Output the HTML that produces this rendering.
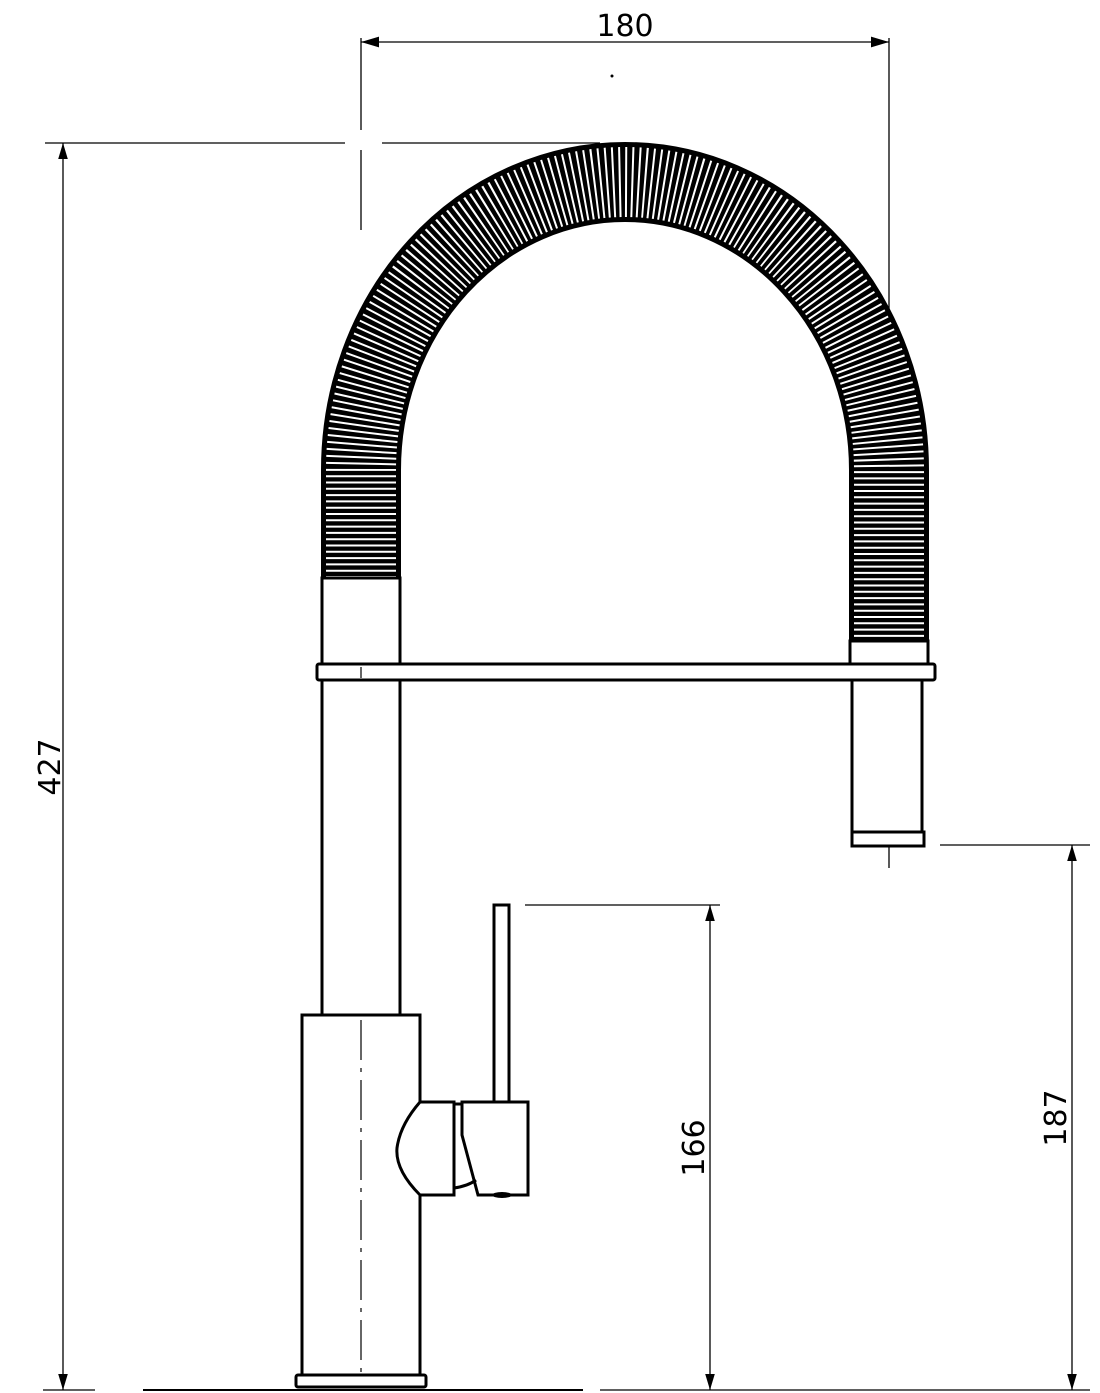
<!DOCTYPE html><html><head><style>body{margin:0;background:#fff}svg{display:block}text{font-family:"DejaVu Sans","Liberation Sans",sans-serif;font-size:30px;fill:#000}</style></head><body>
<svg width="1100" height="1393" viewBox="0 0 1100 1393" xmlns="http://www.w3.org/2000/svg">
<defs><marker id="a" viewBox="0 0 10 10" refX="10" refY="5" markerWidth="26" markerHeight="18" markerUnits="userSpaceOnUse" orient="auto-start-reverse"><path d="M0,2 L10,5 L0,8 z" fill="#000"/></marker>
<marker id="v" viewBox="0 0 10 10" refX="10" refY="5" markerWidth="34" markerHeight="16" markerUnits="userSpaceOnUse" orient="auto-start-reverse"><path d="M0,2 L10,5 L0,8 z" fill="#000"/></marker></defs>
<g stroke="#000" stroke-width="1.3" fill="none">
<line x1="361" y1="42" x2="889" y2="42" marker-start="url(#a)" marker-end="url(#a)"/>
<line x1="361" y1="38" x2="361" y2="130"/><line x1="361" y1="150" x2="361" y2="230"/>
<line x1="889" y1="38" x2="889" y2="868"/>
<line x1="63" y1="143" x2="63" y2="1390" marker-start="url(#v)" marker-end="url(#v)"/>
<line x1="45" y1="143" x2="345" y2="143"/><line x1="382" y1="143" x2="600" y2="143"/>
<line x1="710" y1="905" x2="710" y2="1390" marker-start="url(#v)" marker-end="url(#v)"/>
<line x1="525" y1="905" x2="720" y2="905"/>
<line x1="1072" y1="845" x2="1072" y2="1390" marker-start="url(#v)" marker-end="url(#v)"/>
<line x1="940" y1="845" x2="1090" y2="845"/>
<line x1="43" y1="1390" x2="95" y2="1390"/><line x1="600" y1="1390" x2="1090" y2="1390"/>
</g>
<circle cx="612" cy="76" r="1.5"/>
<text x="625" y="36" text-anchor="middle">180</text>
<text transform="translate(60,767) rotate(-90)" text-anchor="middle">427</text>
<text transform="translate(704,1148) rotate(-90)" text-anchor="middle">166</text>
<text transform="translate(1066,1118) rotate(-90)" text-anchor="middle">187</text>
<path d="M361,578 L361,470 A264,288 0 0 1 889,470 L889,640" fill="none" stroke="#000" stroke-width="80"/>
<path d="M361,578 L361,470 A264,288 0 0 1 889,470 L889,640" fill="none" stroke="#fff" stroke-width="70" stroke-dasharray="2 4.3"/>
<g stroke="#000" stroke-width="3" fill="#fff">
<rect x="322" y="578" width="78" height="87"/>
<rect x="850" y="641" width="78" height="24"/>
<rect x="322" y="680" width="78" height="335"/>
<rect x="317" y="664" width="618" height="16" rx="2"/>
<rect x="852" y="680" width="70" height="152"/>
<rect x="852" y="832" width="72" height="14"/>
<rect x="302" y="1015" width="118" height="360"/>
<rect x="296" y="1375" width="130" height="12" rx="2"/>
<rect x="494" y="905" width="15" height="198"/>
<path d="M420,1102 L454,1102 L454,1195 L420,1195 Q395,1170 397,1148 Q400,1125 420,1102 Z"/>
<path d="M462,1102 L528,1102 L528,1195 L478,1195 L462,1135 Z"/>
<path d="M454,1104 L462,1104 M454,1188 Q468,1186 476,1180" fill="none"/>
</g>
<line x1="143" y1="1390" x2="583" y2="1390" stroke="#000" stroke-width="2"/>
<ellipse cx="502" cy="1195" rx="10" ry="3"/>
<g stroke="#000" stroke-width="1.2" stroke-dasharray="40 8 4 8">
<line x1="361" y1="1020" x2="361" y2="1375"/>
</g>
<line x1="361" y1="667" x2="361" y2="678" stroke="#000" stroke-width="1.2"/>
</svg></body></html>
